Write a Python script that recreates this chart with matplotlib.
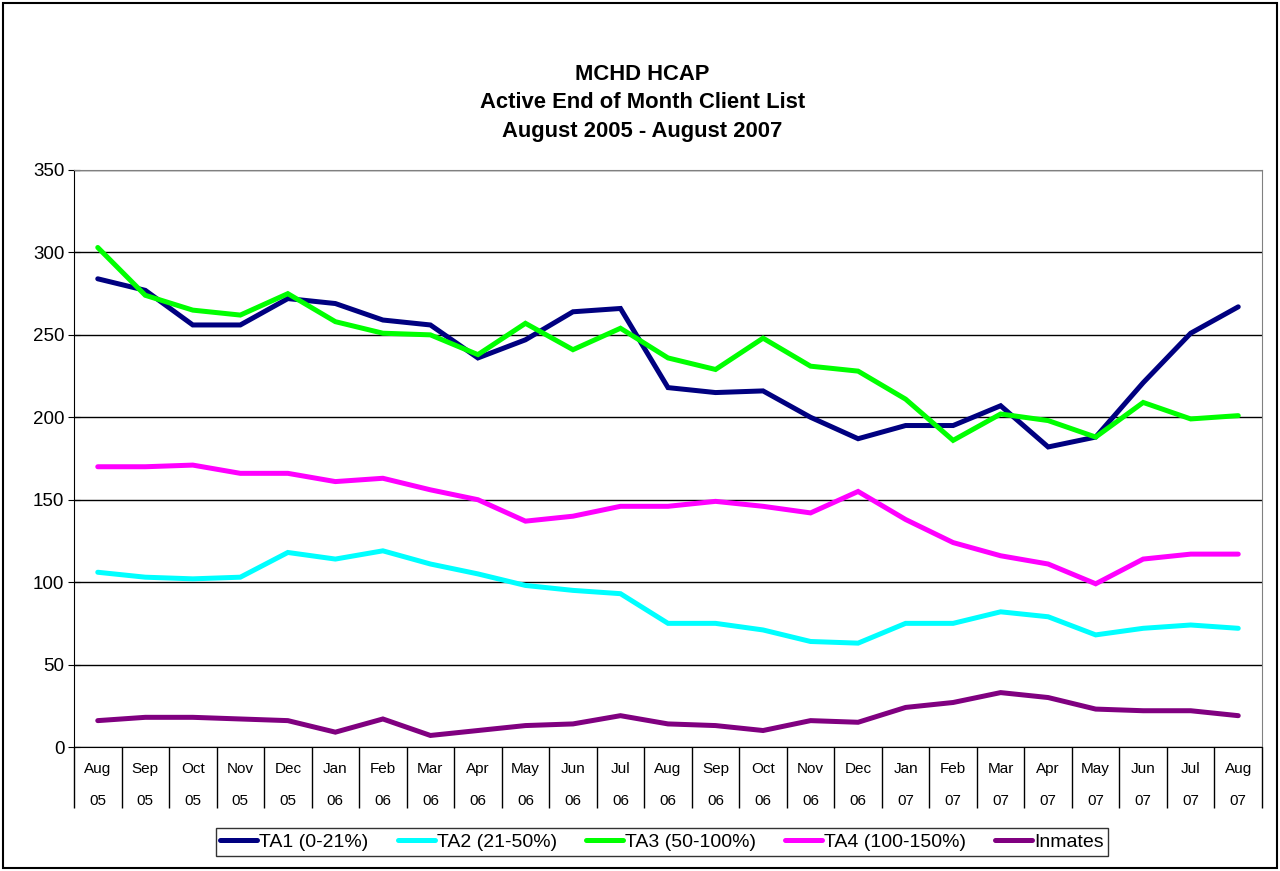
import matplotlib.pyplot as plt
from matplotlib.patches import Rectangle
import numpy as np

plt.rcParams['font.family'] = ['Liberation Sans', 'DejaVu Sans']

months = ['Aug', 'Sep', 'Oct', 'Nov', 'Dec', 'Jan', 'Feb', 'Mar', 'Apr', 'May', 'Jun', 'Jul',
          'Aug', 'Sep', 'Oct', 'Nov', 'Dec', 'Jan', 'Feb', 'Mar', 'Apr', 'May', 'Jun', 'Jul', 'Aug']
years = ['05'] * 5 + ['06'] * 12 + ['07'] * 8

ta1 = [284, 277, 256, 256, 272, 269, 259, 256, 236, 247, 264, 266, 218,
       215, 216, 200, 187, 195, 195, 207, 182, 188, 221, 251, 267]
ta2 = [106, 103, 102, 103, 118, 114, 119, 111, 105, 98, 95, 93, 75,
       75, 71, 64, 63, 75, 75, 82, 79, 68, 72, 74, 72]
ta3 = [303, 274, 265, 262, 275, 258, 251, 250, 238, 257, 241, 254, 236,
       229, 248, 231, 228, 211, 186, 202, 198, 188, 209, 199, 201]
ta4 = [170, 170, 171, 166, 166, 161, 163, 156, 150, 137, 140, 146, 146,
       149, 146, 142, 155, 138, 124, 116, 111, 99, 114, 117, 117]
inmates = [16, 18, 18, 17, 16, 9, 17, 7, 10, 13, 14, 19, 14,
           13, 10, 16, 15, 24, 27, 33, 30, 23, 22, 22, 19]

series = [
    ('TA1 (0-21%)', ta1, '#000080'),
    ('TA2 (21-50%)', ta2, '#00FFFF'),
    ('TA3 (50-100%)', ta3, '#00FF00'),
    ('TA4 (100-150%)', ta4, '#FF00FF'),
    ('Inmates', inmates, '#800080'),
]

fig = plt.figure(figsize=(12.8, 8.71), dpi=100)
ax = fig.add_axes([74 / 1280, 1 - 747 / 871, (1262 - 74) / 1280, (747 - 170) / 871])

x = np.arange(len(months))
for label, vals, color in series:
    ax.plot(x, vals, color=color, lw=3.6, label=label, solid_capstyle='round',
            solid_joinstyle='miter')

ax.set_xlim(-0.5, len(months) - 0.5)
ax.set_ylim(0, 350)
ax.set_yticks(np.arange(0, 351, 50))
ax.yaxis.grid(True, color='black', lw=1)
ax.set_axisbelow(True)
ax.tick_params(axis='y', direction='inout', length=8, labelsize=13.5, pad=3)

# category separators as long ticks, labels on minor ticks at the centres
ax.set_xticks(np.arange(-0.5, len(months), 1))
ax.set_xticklabels([])
ax.tick_params(axis='x', which='major', direction='out', length=44, width=1, color='black')
ax.set_xticks(x, minor=True)
ax.set_xticklabels([f'{m}\n{y}' for m, y in zip(months, years)], minor=True,
                   fontsize=11, linespacing=2.6)
ax.tick_params(axis='x', which='minor', length=0, pad=11)

for s in ['top', 'right']:
    ax.spines[s].set_color('#808080')
for s in ['left', 'bottom']:
    ax.spines[s].set_color('black')

for ypx, txt in [(75, 'MCHD HCAP'), (103, 'Active End of Month Client List'),
                 (131, 'August 2005 - August 2007')]:
    fig.text(0.502, 1 - ypx / 871, txt, ha='center', va='center', fontsize=15.8, fontweight='bold')

leg = fig.legend(loc='center', bbox_to_anchor=(662 / 1280, 1 - 842 / 871), ncol=5,
                 fontsize=14, frameon=True, fancybox=False, handlelength=1.9,
                 handletextpad=0.1, columnspacing=1.5, borderpad=0.25)
leg.get_frame().set_edgecolor('black')
leg.get_frame().set_linewidth(1)

fig.patches.append(Rectangle((3 / 1280, 3 / 871), 1274 / 1280, 865 / 871, transform=fig.transFigure,
                             fill=False, edgecolor='black', lw=1.5))

fig.savefig('out.png', dpi=100)
